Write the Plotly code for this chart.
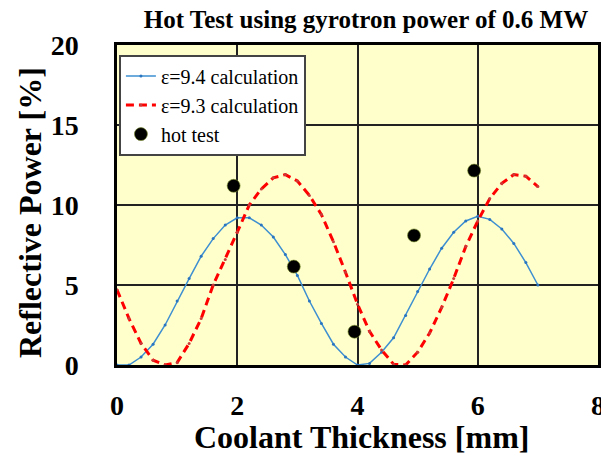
import plotly.graph_objects as go

x_calc = [round(0.2 * i, 1) for i in range(36)]
blue_94 = [0.0, 0.0, 0.5, 1.3, 2.5, 4.0, 5.4, 6.8, 7.9, 8.75, 9.2, 9.2, 8.75, 8.0, 6.9, 5.6,
           4.0, 2.6, 1.3, 0.5, 0.0, 0.1, 0.8, 1.7, 3.1, 4.6, 6.0, 7.3, 8.3, 9.0, 9.3, 9.1,
           8.5, 7.6, 6.4, 5.0]
red_93 = [4.7, 2.9, 1.35, 0.3, 0.0, 0.15, 1.35, 2.9, 5.0, 6.6, 8.3, 10.0, 11.0, 11.7, 11.9, 11.5,
          10.6, 9.4, 7.7, 5.8, 3.8, 2.1, 0.94, 0.05, 0.0, 0.8, 2.0, 3.6, 5.4, 7.4, 9.0, 10.4,
          11.35, 11.9, 11.8, 11.15]
hot_x = [1.94, 2.94, 3.95, 4.94, 5.94]
hot_y = [11.2, 6.15, 2.08, 8.1, 12.15]

x_ticks = [0, 2, 4, 6, 8]
y_ticks = [0, 5, 10, 15, 20]

SERIF = "Liberation Serif, Times New Roman, serif"

fig = go.Figure()
fig.add_trace(go.Scatter(
    x=x_calc, y=blue_94, mode="lines+markers", name="ε=9.4 calculation",
    line=dict(color="#3d8fd1", width=1.5),
    marker=dict(color="#2a75c0", size=3),
))
fig.add_trace(go.Scatter(
    x=x_calc, y=red_93, mode="lines+markers", name="ε=9.3 calculation",
    line=dict(color="#ff0000", width=3, dash="8px,5px"),
    marker=dict(color="#c83c3c", size=3),
))
fig.add_trace(go.Scatter(
    x=hot_x, y=hot_y, mode="markers", name="hot test",
    marker=dict(color="black", size=13, line=dict(color="rgba(120,140,40,0.6)", width=1)),
))

fig.update_layout(
    width=601, height=462,
    margin=dict(l=117, r=3, t=45, b=97, autoexpand=False),
    paper_bgcolor="white",
    plot_bgcolor="#ffffcc",
    font=dict(family=SERIF, color="black"),
    title=dict(
        text="<b>Hot Test using gyrotron power of 0.6 MW</b>",
        font=dict(family=SERIF, size=25, color="black"),
        xref="container", x=366 / 601, xanchor="center",
        yref="container", y=1 - 19 / 462, yanchor="middle",
        automargin=False,
    ),
    legend=dict(
        x=0.004, y=0.97, xanchor="left", yanchor="top",
        bgcolor="white", bordercolor="#444", borderwidth=2,
        font=dict(family=SERIF, size=20, color="black"),
        tracegroupgap=0, itemwidth=30,
    ),
    showlegend=True,
    annotations=[
        dict(text="<b>Coolant Thickness [mm]</b>", xref="paper", yref="paper",
             x=(361 - 117) / 481, y=-(437 - 365) / 320, xanchor="center", yanchor="middle",
             showarrow=False, font=dict(family=SERIF, size=32, color="black")),
        dict(text="<b>Reflective Power [%]</b>", xref="paper", yref="paper",
             x=-(117 - 30) / 481, y=(365 - 213) / 320, xanchor="center", yanchor="middle",
             textangle=-90, showarrow=False, font=dict(family=SERIF, size=32, color="black")),
    ],
)
fig.update_xaxes(
    range=[0, 8], tickvals=x_ticks, ticktext=[str(v) for v in x_ticks],
    showgrid=True, gridcolor="#222", gridwidth=1.5,
    showline=True, linecolor="black", linewidth=2.5, mirror=True,
    zeroline=False, ticks="", ticklabelstandoff=14, automargin=False,
    ticklabeloverflow="allow",
    tickfont=dict(family=SERIF, size=28, color="black", weight="bold"),
)
fig.update_yaxes(
    range=[0, 20], tickvals=y_ticks, ticktext=[str(v) for v in y_ticks],
    showgrid=True, gridcolor="#222", gridwidth=1.5,
    showline=True, linecolor="black", linewidth=2.5, mirror=True,
    zeroline=False, ticks="", ticklabelstandoff=30, automargin=False,
    ticklabeloverflow="allow",
    tickfont=dict(family=SERIF, size=28, color="black", weight="bold"),
)

fig.write_html(
    "out.html",
    config={"displayModeBar": False},
    post_script="document.body.style.margin='0';document.body.style.overflow='hidden';",
)
